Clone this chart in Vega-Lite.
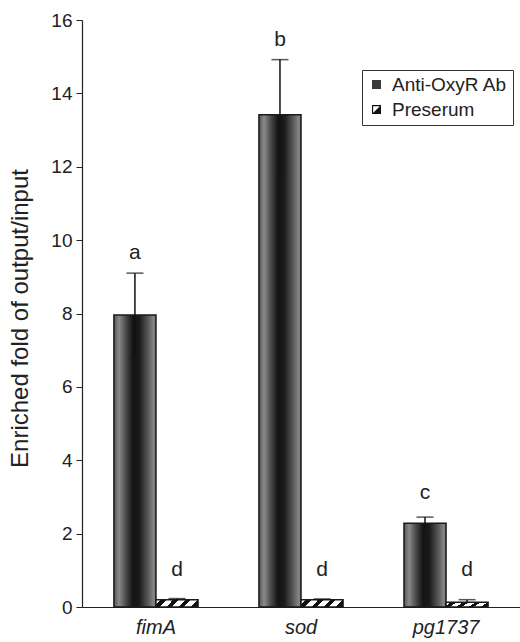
{
  "$schema": "https://vega.github.io/schema/vega-lite/v6.json",
  "width": 438,
  "height": 587,
  "autosize": {"type": "none"},
  "padding": {"left": 82, "top": 20, "right": 0, "bottom": 35},
  "config": {
    "view": {"stroke": null},
    "font": "Liberation Sans"
  },
  "data": {
    "values": [
      {"gene": "fimA", "series": "Anti-OxyR Ab", "value": 7.96, "lo": 6.8, "hi": 9.1, "letter": "a", "ly": 9.65},
      {"gene": "fimA", "series": "Preserum", "value": 0.2, "lo": 0.17, "hi": 0.23, "letter": "d", "ly": 1.0},
      {"gene": "sod", "series": "Anti-OxyR Ab", "value": 13.42, "lo": 11.9, "hi": 14.92, "letter": "b", "ly": 15.45},
      {"gene": "sod", "series": "Preserum", "value": 0.2, "lo": 0.18, "hi": 0.22, "letter": "d", "ly": 1.0},
      {"gene": "pg1737", "series": "Anti-OxyR Ab", "value": 2.28, "lo": 2.12, "hi": 2.45, "letter": "c", "ly": 3.1},
      {"gene": "pg1737", "series": "Preserum", "value": 0.13, "lo": 0.1, "hi": 0.2, "letter": "d", "ly": 1.0}
    ]
  },
  "encoding": {
    "x": {
      "field": "gene", "type": "nominal", "sort": ["fimA", "sod", "pg1737"],
      "scale": {"paddingInner": 0.42, "paddingOuter": 0.22},
      "axis": {
        "title": null, "ticks": false, "labelAngle": 0, "labelFontSize": 20,
        "labelFontStyle": "italic", "labelColor": "#222", "labelPadding": 10,
        "domainColor": "#222", "domainWidth": 1.2
      }
    },
    "xOffset": {"field": "series", "type": "nominal", "sort": ["Anti-OxyR Ab", "Preserum"], "scale": {"paddingInner": 0, "paddingOuter": 0}},
    "y": {
      "field": "value", "type": "quantitative",
      "scale": {"domain": [0, 16], "nice": false},
      "axis": {
        "title": "Enriched fold of output/input", "titleFontSize": 24, "titleFontWeight": "normal",
        "titleColor": "#222", "titleX": -55, "titleY": 298, "titleAngle": -90, "titleAlign": "center", "titleBaseline": "alphabetic",
        "values": [0, 2, 4, 6, 8, 10, 12, 14, 16], "labelFontSize": 19, "labelColor": "#222",
        "labelPadding": 4, "tickSize": 6, "tickColor": "#222", "domainColor": "#222", "domainWidth": 1.2,
        "grid": false
      }
    }
  },
  "layer": [
    {
      "mark": {"type": "point", "filled": true, "size": 2, "opacity": 1},
      "encoding": {
        "y": {"field": "lo", "type": "quantitative"},
        "fill": {
          "field": "series", "type": "nominal",
          "scale": {"domain": ["Anti-OxyR Ab", "Preserum"], "range": ["#3a3a3a", "#111111"]},
          "legend": {
            "title": null, "orient": "none", "legendX": 280, "legendY": 50,
            "strokeColor": "#333", "padding": 5, "symbolSize": 81, "symbolOpacity": 1,
            "symbolStrokeWidth": 0,
            "labelFontSize": 19, "labelColor": "#222", "labelOffset": 6, "rowPadding": 5,
            "labelLimit": 300
          }
        },
        "shape": {
          "field": "series", "type": "nominal",
          "scale": {"domain": ["Anti-OxyR Ab", "Preserum"], "range": ["square", "M-1,-1L1,-1L1,1L-1,1ZM-0.75,-0.75L-0.75,0.75L0.75,0.75L0.75,-0.75ZM1,-1L1,1L-1,1Z"]}
        }
      }
    },
    {
      "transform": [{"filter": "datum.series === 'Anti-OxyR Ab'"}],
      "mark": {
        "type": "bar", "stroke": "#1a1a1a", "strokeWidth": 1.5,
        "fill": {"gradient": "linear", "x1": 0, "y1": 0, "x2": 1, "y2": 0, "stops": [
          {"offset": 0, "color": "#555555"},
          {"offset": 0.12, "color": "#8a8a8a"},
          {"offset": 0.3, "color": "#444444"},
          {"offset": 0.45, "color": "#141414"},
          {"offset": 0.6, "color": "#1a1a1a"},
          {"offset": 0.82, "color": "#5a5a5a"},
          {"offset": 0.95, "color": "#888888"},
          {"offset": 1, "color": "#666666"}
        ]}
      }
    },
    {
      "transform": [{"filter": "datum.series === 'Preserum'"}],
      "mark": {
        "type": "bar", "stroke": "#1a1a1a", "strokeWidth": 1.5,
        "fill": {"gradient": "linear", "x1": 0, "y1": 0, "x2": 1, "y2": 0.17, "stops": [
          {"offset": 0, "color": "#ffffff"},
          {"offset": 0.12, "color": "#ffffff"},
          {"offset": 0.12, "color": "#111111"},
          {"offset": 0.24, "color": "#111111"},
          {"offset": 0.24, "color": "#ffffff"},
          {"offset": 0.4, "color": "#ffffff"},
          {"offset": 0.4, "color": "#111111"},
          {"offset": 0.52, "color": "#111111"},
          {"offset": 0.52, "color": "#ffffff"},
          {"offset": 0.68, "color": "#ffffff"},
          {"offset": 0.68, "color": "#111111"},
          {"offset": 0.8, "color": "#111111"},
          {"offset": 0.8, "color": "#ffffff"},
          {"offset": 0.96, "color": "#ffffff"},
          {"offset": 0.96, "color": "#111111"},
          {"offset": 1, "color": "#111111"}
        ]}
      }
    },
    {
      "mark": {"type": "rule", "color": "#111", "strokeWidth": 1.5},
      "encoding": {
        "y": {"field": "lo", "type": "quantitative"},
        "y2": {"field": "hi"}
      }
    },
    {
      "mark": {"type": "tick", "color": "#111", "size": 17, "thickness": 1.5},
      "encoding": {
        "y": {"field": "hi", "type": "quantitative"}
      }
    },
    {
      "mark": {"type": "text", "fontSize": 21, "color": "#222", "baseline": "middle"},
      "encoding": {
        "y": {"field": "ly", "type": "quantitative"},
        "text": {"field": "letter"}
      }
    }
  ]
}
